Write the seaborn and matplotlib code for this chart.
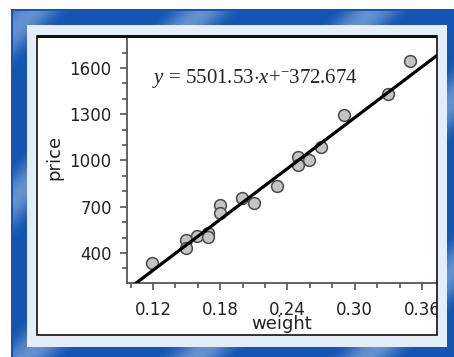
import numpy as np
import pandas as pd
import matplotlib
matplotlib.use('Agg')
import matplotlib.pyplot as plt
from matplotlib.patches import Rectangle
from matplotlib.ticker import MultipleLocator
import seaborn as sns

sns.set_theme(style='white')
plt.rcParams['font.family'] = ['DejaVu Sans']
plt.rcParams['mathtext.fontset'] = 'custom'
plt.rcParams['mathtext.rm'] = 'Liberation Serif'
plt.rcParams['mathtext.it'] = 'Liberation Serif:italic'

# data
weight = [0.119, 0.149, 0.149, 0.159, 0.169, 0.169, 0.180, 0.180, 0.199,
          0.210, 0.231, 0.249, 0.249, 0.259, 0.270, 0.290, 0.330, 0.349]
price = [335, 484, 432, 510, 530, 505, 711, 659, 757,
         724, 834, 1023, 971, 1004, 1088, 1295, 1431, 1645]
slope = 5501.53
intercept = -372.674

xticks = [0.12, 0.18, 0.24, 0.30, 0.36]
yticks = [400, 700, 1000, 1300, 1600]

df = pd.DataFrame({'weight': weight, 'price': price})

W, H = 454, 357
fig = plt.figure(figsize=(W / 100, H / 100), dpi=100)
ax = fig.add_axes([127 / W, (H - 283) / H, (437 - 127) / W, (283 - 37) / H])

xlim = (0.0968, 0.3734)
ylim = (205, 1801)
line_x = np.linspace(xlim[0], xlim[1], 50)
line = pd.DataFrame({'weight': line_x, 'price': slope * line_x + intercept})

sns.lineplot(data=line, x='weight', y='price', color='black', linewidth=2.3, ax=ax, zorder=3)
sns.scatterplot(data=df, x='weight', y='price', s=72, color='#c4c4c4',
                edgecolor='#4a4a4a', linewidth=1.1, ax=ax, zorder=2)

ax.set_xlim(*xlim)
ax.set_ylim(*ylim)
ax.set_xticks(xticks)
ax.set_xticklabels(['%.2f' % v for v in xticks])
ax.set_yticks(yticks)
ax.xaxis.set_minor_locator(MultipleLocator(0.02))
ax.yaxis.set_minor_locator(MultipleLocator(100))
ax.tick_params(which='major', direction='out', length=5, width=1.2, color='#555555',
               labelsize=12, labelcolor='#222222', bottom=True, left=True)
ax.tick_params(axis='x', which='major', pad=8)
ax.tick_params(axis='y', which='major', pad=6)
ax.tick_params(which='minor', direction='out', length=3.5, width=1.2, color='#555555',
               bottom=True, left=True)
for side in ['top', 'right']:
    ax.spines[side].set_visible(False)
for side in ['left', 'bottom']:
    ax.spines[side].set_color('#555555')
    ax.spines[side].set_linewidth(1.3)

ax.set_xlabel('weight', fontsize=13, color='#222222')
ax.set_ylabel('price', fontsize=13, color='#222222')
ax.xaxis.set_label_coords(0.5, -0.13)
ax.yaxis.set_label_coords(-0.205, 0.512)

ax.text(0.08, 0.813, r'$y$ = 5501.53$\cdot x$+$^{-}$372.674', transform=ax.transAxes,
        fontsize=15, color='#222222', va='baseline', ha='left',
        family='Liberation Serif')

# decorative frame drawn on top
yy, xx = np.mgrid[0:H, 0:W]
img = np.ones((H, W, 4))
blue = (xx >= 11) & (yy >= 9)
inner = (xx >= 27) & (xx < 447) & (yy >= 25) & (yy < 347)
panel = (xx >= 37) & (xx < 437) & (yy >= 35) & (yy < 335)
dark = np.array([0.08, 0.33, 0.70])
light = np.array([0.60, 0.73, 0.89])
w = np.clip(np.sin(2 * np.pi * (xx + yy) / 170.0), 0, 1) ** 2 * 0.6
edge = (xx < 13) | (yy < 11)
w = np.where(edge, 0.0, w)
col = dark[None, None, :] * (1 - w[..., None]) + light[None, None, :] * w[..., None]
img[blue, :3] = col[blue]
img[inner, :3] = [0.90, 0.93, 0.97]
img[panel, 3] = 0.0

fax = fig.add_axes([0, 0, 1, 1], zorder=10)
fax.imshow(img, extent=(0, W, H, 0), aspect='auto', interpolation='nearest')
fax.set_xlim(0, W)
fax.set_ylim(H, 0)
fax.axis('off')
fax.add_patch(Rectangle((37, 36), 400, 299, fill=False, edgecolor='#111111', linewidth=1.2))
fax.add_patch(Rectangle((37, 34.5), 400, 3.5, facecolor='#111111', edgecolor='none'))

fig.savefig('out.png', dpi=100)
